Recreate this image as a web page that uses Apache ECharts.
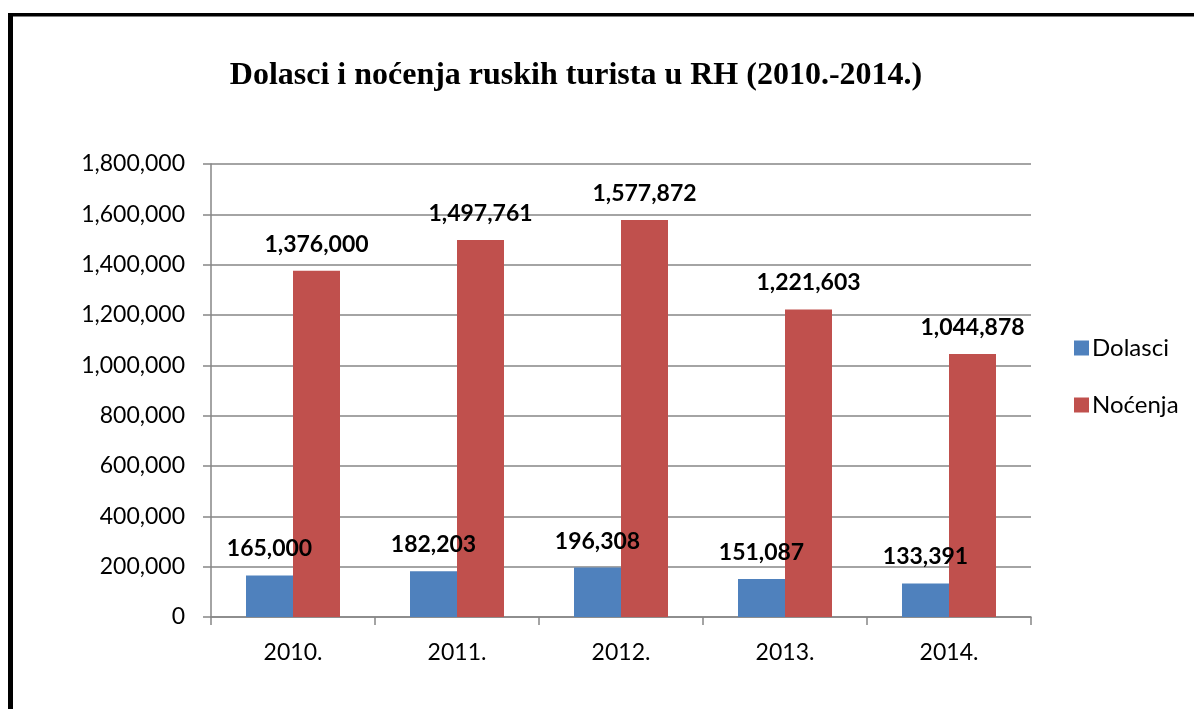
<!DOCTYPE html>
<html>
<head>
<meta charset="utf-8">
<script src="https://cdn.jsdelivr.net/npm/echarts@6/dist/echarts.min.js"></script>
<style>
html,body{margin:0;padding:0;background:#fff;}
#chart{width:1194px;height:709px;}
</style>
</head>
<body>
<div id="chart"></div>
<script>
const categories = ['2010.', '2011.', '2012.', '2013.', '2014.'];
const dolasci = [165000, 182203, 196308, 151087, 133391];
const nocenja = [1376000, 1497761, 1577872, 1221603, 1044878];
const seriesNames = ['Dolasci', 'Noćenja'];
const titleText = 'Dolasci i noćenja ruskih turista u RH (2010.-2014.)';

const fmt = v => v.toLocaleString('en-US');
const labelFont = 'Lato, "Open Sans", sans-serif';

const chart = echarts.init(document.getElementById('chart'), null, {renderer: 'canvas'});
chart.setOption({
  animation: false,
  backgroundColor: '#fff',
  title: {
    text: titleText,
    left: 571,
    textAlign: 'center',
    top: 55,
    textStyle: {
      fontFamily: '"Liberation Serif", "Times New Roman", serif',
      fontWeight: 'bold',
      fontSize: 32,
      color: '#000'
    }
  },
  graphic: [
    {type: 'rect', shape: {x: 8, y: 13, width: 1186, height: 3.5}, style: {fill: '#000'}, silent: true},
    {type: 'rect', shape: {x: 8, y: 13, width: 5, height: 696}, style: {fill: '#000'}, silent: true}
  ],
  legend: {
    orient: 'vertical',
    left: 1069,
    top: 331,
    itemWidth: 15,
    itemHeight: 15,
    itemGap: 33,
    icon: 'rect',
    data: seriesNames,
    textStyle: {fontFamily: labelFont, fontSize: 24, color: '#000', padding: [0, 0, 0, -2]}
  },
  grid: {left: 211, right: 163, top: 164, bottom: 92, containLabel: false},
  xAxis: {
    type: 'category',
    data: categories,
    axisLine: {lineStyle: {color: '#868686', width: 1.5}},
    axisTick: {show: true, length: 8, alignWithLabel: false, lineStyle: {color: '#868686', width: 1.5}},
    axisLabel: {fontFamily: labelFont, fontSize: 23, color: '#000', margin: 24}
  },
  yAxis: {
    type: 'value',
    min: 0,
    max: 1800000,
    interval: 200000,
    axisLine: {show: true, lineStyle: {color: '#868686', width: 1.5}},
    axisTick: {show: true, length: 8, lineStyle: {color: '#868686', width: 1.5}},
    splitLine: {lineStyle: {color: '#868686', width: 1.5}},
    axisLabel: {fontFamily: labelFont, fontSize: 23, color: '#000', margin: 26, formatter: v => fmt(v)}
  },
  series: [
    {
      name: seriesNames[0],
      type: 'bar',
      data: dolasci,
      barWidth: 47,
      barGap: '0%',
      itemStyle: {color: '#4F81BD'},
      label: {show: true, position: 'top', distance: 15, formatter: p => fmt(p.value),
        fontFamily: labelFont, fontWeight: 'bold', fontSize: 23, color: '#000'}
    },
    {
      name: seriesNames[1],
      type: 'bar',
      data: nocenja,
      barWidth: 47,
      barGap: '0%',
      itemStyle: {color: '#C0504D'},
      label: {show: true, position: 'top', distance: 15, formatter: p => fmt(p.value),
        fontFamily: labelFont, fontWeight: 'bold', fontSize: 23, color: '#000'}
    }
  ]
});
</script>
</body>
</html>
